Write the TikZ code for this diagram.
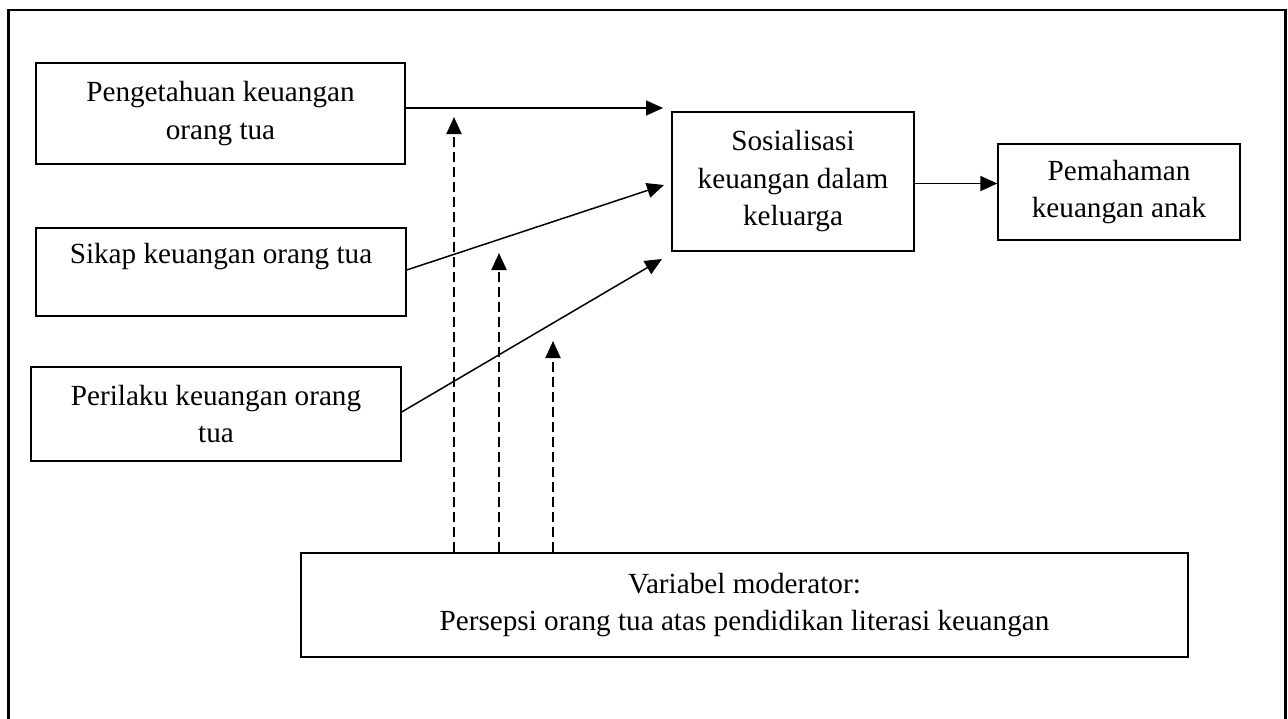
\documentclass[tikz,border=0pt]{standalone}
\usepackage{fontspec}
\setmainfont{Liberation Serif}
\usetikzlibrary{arrows.meta,positioning,calc}
\tikzset{
  box/.style={draw=black,line width=1.3pt,fill=white,inner sep=0pt,
    font=\fontsize{29.2}{37.5}\selectfont,align=center},
  arr/.style={-{Triangle[length=17pt,width=15pt]},line width=1.5pt},
  modarr/.style={-{Triangle[length=17pt,width=15pt]},line width=2pt,
    dash pattern=on 10pt off 5pt},
  frame/.style={draw=black,line width=2.6pt},
}

\begin{document}
\begin{tikzpicture}[x=1pt,y=-1pt]
  \useasboundingbox (0,0) rectangle (1288,718);
  \begin{scope}
    \clip (0,0) rectangle (1288,718);
    \draw[frame] (8.5,10) rectangle (1285.5,740);
  \end{scope}

  % left column
  \node[box,minimum width=369pt,minimum height=101pt] (know) at (220.5,113.5)
    {Pengetahuan keuangan\\orang tua};
  \node[box,minimum width=370pt,minimum height=88pt] (attitude) at (221,272)
    {Sikap keuangan orang tua\\\mbox{}};
  \node[box,minimum width=370pt,minimum height=94pt] (behave) at (216,414)
    {Perilaku keuangan orang\\tua};

  % right side
  \node[box,minimum width=242pt,minimum height=139pt] (social) at (793,181.5)
    {Sosialisasi\\keuangan dalam\\keluarga};
  \node[box,minimum width=242pt,minimum height=96pt] (understand) at (1119,192)
    {Pemahaman\\keuangan anak};
  \node[box,minimum width=887pt,minimum height=104pt] (moder) at (744.5,605)
    {Variabel moderator:\\Persepsi orang tua atas pendidikan literasi keuangan};

  % arrow tips
  \coordinate (t1) at (663,108);
  \coordinate (t2) at (664,185);
  \coordinate (t3) at (662,259);
  \coordinate (m1) at (454,117);
  \coordinate (m2) at (499,253);
  \coordinate (m3) at (553,341);

  \draw[arr] (know.east |- t1) -- (t1);
  \draw[arr] ([yshift=2pt]attitude.east) -- (t2);
  \draw[arr] ([yshift=2pt]behave.east) -- (t3);
  \draw[arr] ([yshift=-2pt]social.east) -- ([yshift=-2pt]social.east -| understand.west);

  \foreach \m in {m1,m2,m3}
    \draw[modarr] (moder.north -| \m) -- (\m);
\end{tikzpicture}
\end{document}
